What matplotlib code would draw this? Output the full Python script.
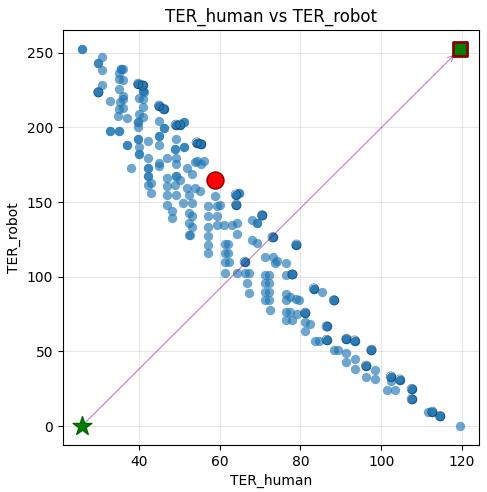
import numpy as np
import matplotlib
matplotlib.use("Agg")
import matplotlib.pyplot as plt

# Evaluated allocations: human / robot TER, and how many runs landed on each point
human = [
    25.8, 30.9, 29.9, 30.9, 35.5, 36.1, 35.1, 35.9, 35.1, 30.9, 29.9, 32.8, 35.1, 36.1, 35.9,
    35.3, 35.0, 35.9, 36.9, 34.9, 32.8, 35.1, 36.9, 37.9, 39.8, 40.9, 41.1, 41.2, 40.0, 41.1,
    41.1, 40.0, 41.1, 39.8, 39.8, 39.8, 42.1, 40.0, 40.0, 42.1, 42.1, 45.0, 46.1, 45.0, 46.1,
    45.0, 45.0, 49.1, 50.2, 51.2, 49.1, 48.9, 49.2, 49.2, 46.9, 45.0, 45.0, 54.3, 55.3, 51.2,
    42.1, 42.9, 42.1, 47.0, 46.9, 49.2, 50.2, 51.9, 53.1, 54.3, 56.1, 55.3, 51.9, 53.9, 55.2,
    42.9, 47.0, 49.2, 51.0, 53.1, 47.0, 48.9, 52.5, 53.9,
    52.3, 53.1, 52.3, 53.1, 52.3, 52.7, 48.1, 48.1,
    57.2, 57.2, 57.2, 57.2, 57.2, 57.2, 58.9, 59.3, 59.3, 59.3, 60.1,
    61.0, 63.0, 64.3, 64.3, 61.2, 62.0, 61.2, 62.0, 61.2, 62.4, 61.2,
    64.3, 66.3, 67.2, 66.7, 67.2, 66.2, 68.0, 69.2, 70.5, 64.0, 64.8, 64.1,
    68.0, 69.2, 73.1, 71.3, 73.1, 73.8, 74.2, 76.3, 79.0,
    71.3, 72.1, 71.3, 72.1, 71.3, 72.1, 71.3, 72.1, 72.5, 76.3, 78.0,
    76.3, 77.3, 78.8, 79.6, 76.3, 76.3, 77.5, 79.2, 81.2,
    76.3, 77.9, 81.2, 82.3, 81.2, 86.5, 83.3, 85.4, 88.3,
    83.5, 84.5, 86.5, 88.3, 89.3, 91.4, 93.4, 91.4, 93.4, 91.4, 93.4,
    97.6, 96.3, 98.5, 96.3, 98.5, 102.4, 104.6, 102.4, 101.4, 103.4,
    107.6, 107.6, 111.7, 112.7, 114.6, 119.6,
]
robot = [
    252.2, 247.1, 243.3, 238.1, 238.7, 239.2, 236.3, 232.0, 232.5, 228.0, 223.5, 217.9, 225.7, 221.2, 219.0,
    217.0, 212.3, 212.9, 206.0, 207.7, 197.6, 197.6, 188.0, 173.0, 229.1, 228.0, 224.6, 223.5, 219.5, 219.0,
    213.8, 208.9, 206.7, 203.3, 199.9, 192.0, 190.9, 186.5, 181.9, 179.7, 173.0, 214.5, 212.3, 203.9, 199.5,
    194.3, 188.0, 201.7, 201.7, 203.3, 192.0, 185.3, 179.7, 175.2, 179.7, 176.3, 174.0, 189.8, 188.7, 186.5,
    167.3, 162.9, 161.7, 166.2, 160.6, 167.3, 164.6, 173.0, 168.5, 177.4, 177.4, 175.2, 159.4, 159.4, 157.2,
    156.1, 155.0, 155.0, 149.4, 149.4, 148.2, 161.7, 155.0, 176.5,
    142.6, 140.4, 135.9, 133.6, 128.0, 128.0, 143.7, 139.3,
    147.6, 140.4, 133.6, 127.4, 121.3, 115.7, 153.8, 147.6, 140.4, 134.8, 148.2,
    134.8, 134.8, 135.9, 128.5, 122.0, 122.0, 115.7, 115.7, 110.0, 110.0, 102.6,
    102.2, 102.2, 102.2, 95.9, 89.2, 110.0, 138.1, 135.9, 141.0, 155.0, 156.2, 148.2,
    124.7, 122.4, 126.4, 113.4, 113.4, 109.0, 110.7, 109.0, 121.5,
    101.1, 101.1, 95.5, 95.5, 89.8, 89.8, 84.2, 84.2, 77.5, 101.1, 101.5,
    88.7, 86.5, 85.0, 84.2, 84.2, 76.3, 76.3, 75.2, 75.9,
    70.8, 70.8, 69.6, 68.1, 64.0, 66.7, 92.1, 89.8, 84.2,
    57.3, 57.3, 57.7, 51.2, 51.2, 58.4, 57.3, 48.7, 44.9, 42.7, 38.2,
    51.0, 40.4, 37.5, 33.0, 31.5, 33.2, 31.2, 30.3, 24.3, 24.3,
    24.9, 18.0, 9.6, 9.6, 6.7, 0.3,
]
count = [
    2, 1, 2, 1, 2, 1, 1, 1, 1, 1, 3, 1, 1, 1, 1,
    1, 1, 1, 1, 1, 2, 2, 2, 1, 3, 3, 2, 1, 1, 1,
    1, 1, 1, 2, 1, 2, 1, 1, 2, 1, 2, 3, 3, 1, 2,
    2, 1, 3, 3, 2, 1, 2, 1, 1, 1, 1, 1, 4, 4, 2,
    2, 1, 1, 1, 1, 2, 1, 1, 1, 1, 1, 1, 1, 1, 1,
    1, 1, 1, 1, 1, 1, 1, 1, 1,
    1, 1, 1, 1, 1, 1, 1, 1,
    1, 1, 1, 1, 1, 1, 1, 1, 1, 1, 1,
    1, 1, 1, 1, 1, 1, 1, 1, 1, 1, 1,
    1, 1, 1, 1, 1, 3, 1, 2, 3, 3, 2, 3,
    1, 1, 3, 1, 1, 1, 1, 1, 3,
    1, 1, 1, 1, 1, 1, 1, 1, 1, 1, 3,
    1, 1, 1, 1, 1, 1, 1, 1, 3,
    1, 1, 1, 1, 1, 3, 3, 1, 3,
    1, 1, 3, 1, 1, 3, 3, 1, 1, 1, 1,
    3, 3, 1, 1, 1, 3, 3, 1, 1, 1,
    3, 3, 1, 3, 3, 1,
]

# Highlighted solution and reference points
selected = (58.9, 164.6)
ideal = (25.8, 0.0)
nadir = (119.6, 252.5)

fig = plt.figure(figsize=(4.87, 4.92), dpi=100)
ax = fig.add_axes([0.129, 0.0955, 0.855, 0.8435])

h = np.repeat(np.array(human), count)
r = np.repeat(np.array(robot), count)
ax.scatter(h, r, s=45, color="tab:blue", alpha=0.65, linewidths=0, zorder=2)

# thin dark rim on the most frequently repeated points
cnt = np.array(count)
hv, rv = np.array(human), np.array(robot)
multi = cnt >= 3
ax.scatter(hv[multi], rv[multi], s=45, facecolors="none", edgecolors="#14304d",
           linewidths=0.6, alpha=0.6, zorder=2)

ax.annotate("", xy=nadir, xytext=ideal,
            arrowprops=dict(arrowstyle="->", color="purple", alpha=0.5, lw=0.8,
                            shrinkA=0, shrinkB=6),
            zorder=3)

ax.scatter(*selected, s=150, color="red", edgecolors="darkred", linewidths=1, zorder=4)
ax.scatter(*ideal, s=200, marker="*", color="green", edgecolors="darkgreen",
           linewidths=1, zorder=4)
ax.scatter(*nadir, s=110, marker="s", color="green", edgecolors="darkred",
           linewidths=2, zorder=4)

ax.set_title("TER_human vs TER_robot", fontsize=12)
ax.set_xlabel("TER_human")
ax.set_ylabel("TER_robot")
ax.set_xticks([40, 60, 80, 100, 120])
ax.set_yticks([0, 50, 100, 150, 200, 250])
ax.grid(True, alpha=0.3)
ax.set_axisbelow(True)

fig.savefig("out.png", dpi=100)
